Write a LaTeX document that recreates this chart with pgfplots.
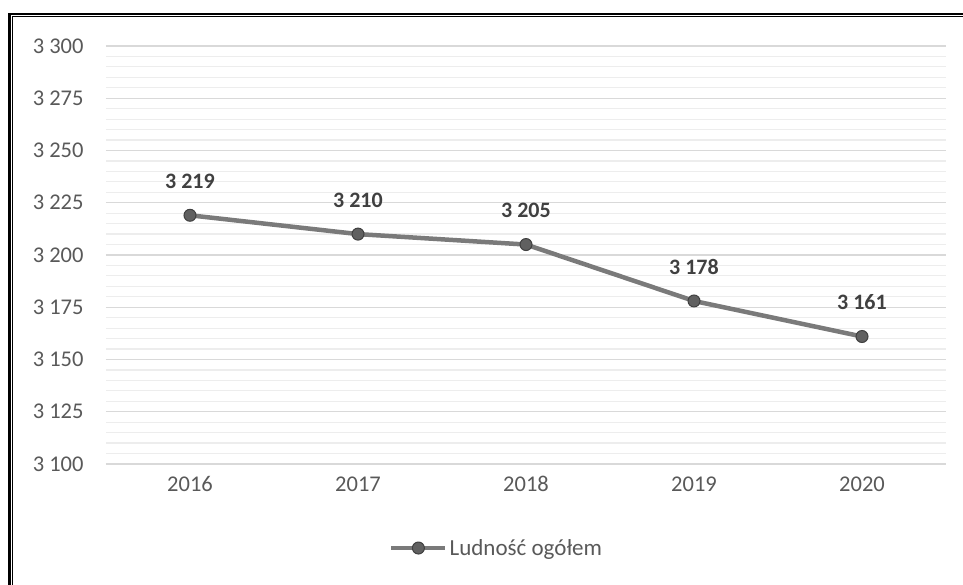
\documentclass[border=0pt]{standalone}
\usepackage{pgfplots}
\pgfplotsset{compat=1.18}
\usepackage{fontspec}
\setmainfont{Carlito}
\definecolor{txt}{HTML}{595959}
\definecolor{lbl}{HTML}{404040}
\definecolor{gmaj}{HTML}{D9D9D9}
\definecolor{gmin}{HTML}{EDEDED}
\definecolor{ln}{HTML}{7A7A7A}
\definecolor{mk}{HTML}{606060}
\begin{document}
\begin{tikzpicture}
\begin{axis}[
  at={(0pt,0pt)}, anchor=south west,
  scale only axis, width=840pt, height=418pt,
  xmin=-0.5, xmax=4.5, ymin=3100, ymax=3300,
  xtick={0,1,2,3,4}, xticklabels={2016,2017,2018,2019,2020},
  ytick={3100,3125,...,3300},
  minor y tick num=4,
  axis line style={draw=none},
  major tick length=0pt, minor tick length=0pt,
  ymajorgrids, yminorgrids,
  major grid style={gmaj, line width=1.3pt},
  minor grid style={gmin, line width=1.2pt},
  tick label style={font=\fontsize{22.5}{26}\selectfont, text=txt},
  yticklabel style={xshift=-19pt},
  xticklabel style={yshift=-9pt},
  yticklabel={\pgfmathprintnumber[1000 sep={\ }, assume math mode=true]{\tick}},
  nodes near coords={\pgfmathprintnumber[1000 sep={\ }, assume math mode=true]{\pgfplotspointmeta}},
  every node near coord/.append style={font=\fontsize{22}{26}\selectfont\bfseries, text=lbl, anchor=center, yshift=34pt},
  legend style={draw=none, fill=none, at={(0.465,-0.201)}, anchor=center,
    font=\fontsize{23}{27}\selectfont, text=txt, legend cell align=left},
  legend image code/.code={\draw[#1, mark repeat=2, mark phase=2] plot coordinates {(0pt,0pt) (27pt,0pt) (54pt,0pt)};},
]
\addplot[ln, line width=4.5pt, mark=*, mark size=6pt,
  mark options={fill=mk, draw=lbl, line width=1pt}]
  coordinates {(0,3219) (1,3210) (2,3205) (3,3178) (4,3161)};
\addlegendentry{Ludność ogółem}
\end{axis}
\draw[line width=2.6pt] (-96.6pt,-140pt) -- (-96.6pt,450.1pt) -- (880pt,450.1pt);
\draw[line width=1.1pt] (-93.7pt,-140pt) -- (-93.7pt,447.3pt) -- (880pt,447.3pt);
\pgfresetboundingbox
\path (-106pt,-121pt) rectangle (857pt,464pt);
\end{tikzpicture}
\end{document}
